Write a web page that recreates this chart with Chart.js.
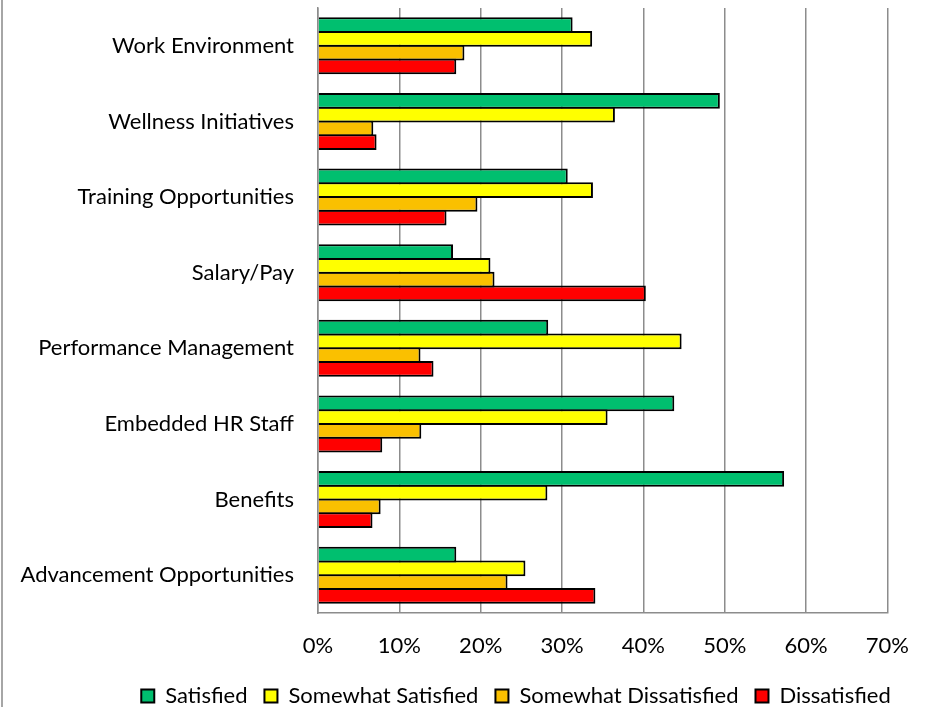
<!DOCTYPE html>
<html>
<head>
<meta charset="utf-8">
<script src="https://cdn.jsdelivr.net/npm/chart.js@4"></script>
<style>
    html, body { margin: 0; padding: 0; background: #fff; }
    #wrap { position: relative; width: 929px; height: 707px; }
    #edge { position: absolute; left: 1px; top: 0; width: 2px; height: 707px; background: #a6a6a6; }
</style>
</head>
<body>
<div id="wrap">
    <div id="edge"></div>
    <canvas id="chart-bar" width="929" height="707"></canvas>
</div>
<script>
    // survey topics, top to bottom
    const categories = ["Work Environment", "Wellness Initiatives", "Training Opportunities", "Salary/Pay",
        "Performance Management", "Embedded HR Staff", "Benefits", "Advancement Opportunities"];

    const satisfied = [31.3, 49.4, 30.7, 16.6, 28.3, 43.8, 57.3, 17.0];
    const somewhatSatisfied = [33.7, 36.5, 33.8, 21.2, 44.7, 35.6, 28.2, 25.5];
    const somewhatDissatisfied = [18.0, 6.8, 19.6, 21.7, 12.6, 12.7, 7.7, 23.3];
    const dissatisfied = [17.0, 7.2, 15.8, 40.3, 14.2, 7.9, 6.7, 34.1];

    const tickLabels = ["0%", "10%", "20%", "30%", "40%", "50%", "60%", "70%"];

    const FONT = { family: "Lato", size: 22, style: 'normal' };

    function makeSet(label, data, color) {
        return {
            label: label,
            data: data,
            backgroundColor: color,
            borderColor: "#000",
            borderWidth: 2,
            categoryPercentage: 0.728,
            barPercentage: 1.145   // bars overlap by one border so edges are shared
        };
    }

    // legend in the reference sits right of centre and a bit lower
    const legendShift = {
        id: 'legendShift',
        afterLayout: function (chart) {
            if (chart.legend) {
                chart.legend.left += 70;
                chart.legend.right += 70;
                chart.legend.top += 9;
                chart.legend.bottom += 9;
            }
        }
    };

    var ctx = document.getElementById("chart-bar").getContext("2d");
    new Chart(ctx, {
        type: "bar",
        data: {
            labels: categories,
            datasets: [
                makeSet("Satisfied", satisfied, "#00BF6F"),
                makeSet("Somewhat Satisfied", somewhatSatisfied, "#FFFF00"),
                makeSet("Somewhat Dissatisfied", somewhatDissatisfied, "#FAC000"),
                makeSet("Dissatisfied", dissatisfied, "#FF0000")
            ]
        },
        plugins: [legendShift],
        options: {
            indexAxis: 'y',
            responsive: false,
            animation: false,
            devicePixelRatio: 1,
            layout: {
                padding: { left: 4, right: 41, top: 8, bottom: 0 }
            },
            plugins: {
                legend: {
                    position: 'bottom',
                    maxHeight: 48,
                    labels: {
                        color: '#000',
                        font: FONT,
                        boxWidth: 13,
                        boxHeight: 13,
                        padding: 17
                    }
                },
                tooltip: { enabled: false }
            },
            scales: {
                x: {
                    min: 0,
                    max: 70,
                    afterBuildTicks: function (scale) {
                        scale.ticks = tickLabels.map(function (t) { return { value: parseFloat(t) }; });
                    },
                    afterFit: function (scale) {
                        scale.height = 46;
                    },
                    grid: {
                        display: true,
                        drawTicks: false,
                        color: '#8c8c8c',
                        lineWidth: 1.5
                    },
                    border: { display: true, color: '#8c8c8c', width: 1.5 },
                    ticks: {
                        color: '#000',
                        padding: 20,
                        font: FONT,
                        callback: function (value, index) {
                            return tickLabels[index];
                        }
                    }
                },
                y: {
                    afterFit: function (scale) {
                        scale.width = 318 - 4;
                        scale.paddingTop = 0;
                        scale.paddingBottom = 0;
                    },
                    grid: { display: false, drawTicks: false },
                    border: { display: true, color: '#8c8c8c', width: 1.5 },
                    ticks: {
                        color: '#000',
                        padding: 24,
                        font: FONT
                    }
                }
            }
        }
    });
</script>
</body>
</html>
